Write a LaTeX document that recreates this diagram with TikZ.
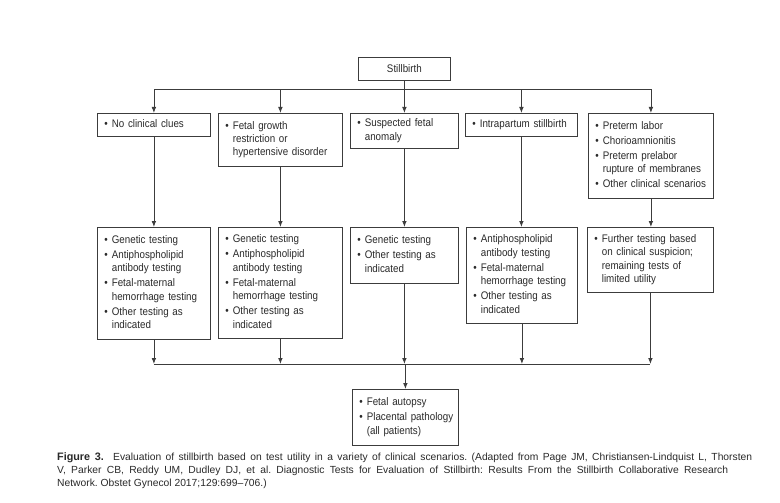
\documentclass[tikz,border=0pt]{standalone}
\usepackage{fontspec}
\setmainfont[FakeStretch=0.89]{Liberation Sans}
\newfontfamily\capfont{Liberation Sans}
\usetikzlibrary{arrows.meta}
\definecolor{linec}{HTML}{3C3C3C}
\definecolor{txtc}{HTML}{2A2A2A}
\frenchspacing
\newcommand\boxfont{\fontsize{11}{13.4}\selectfont\color{txtc}}
\newcommand\capsize{\capfont\fontsize{10.3}{13}\selectfont}
\tikzset{
  box/.style={draw=linec, line width=0.8pt, inner xsep=7pt, inner ysep=0pt,
    anchor=north west, align=left, font=\boxfont},
  ln/.style={draw=linec, line width=0.8pt},
  arr/.style={ln, -{Latex[length=6pt,width=4.6pt]}}
}
\begin{document}
\begin{tikzpicture}[x=1pt,y=-1pt]
\useasboundingbox[fill=white] (0,0) rectangle (780,503);

% top
\node[box, align=center, text width=78pt, minimum height=23pt] (S) at (358,57) {Stillbirth};

% scenario row
\node[box, text width=99pt, minimum height=23pt] (A1) at (97,113)
 {\begin{tabular}{@{}l@{\hspace{4pt}}l@{}}\textbullet & No clinical clues\end{tabular}};
\node[box, text width=110pt, minimum height=53pt] (A2) at (218,113)
 {\begin{tabular}{@{}l@{\hspace{4pt}}l@{}}\textbullet & Fetal growth\\ & restriction or\\ & hypertensive disorder\end{tabular}};
\node[box, text width=94pt, minimum height=35pt] (A3) at (350,113)
 {\begin{tabular}{@{}l@{\hspace{4pt}}l@{}}\textbullet & Suspected fetal\\ & anomaly\end{tabular}};
\node[box, text width=98pt, minimum height=23pt] (A4) at (465,113)
 {\begin{tabular}{@{}l@{\hspace{4pt}}l@{}}\textbullet & Intrapartum stillbirth\end{tabular}};
\node[box, text width=111pt, minimum height=85pt] (A5) at (588,113)
 {\begin{tabular}{@{}l@{\hspace{4pt}}l@{}}\textbullet & Preterm labor\\[1.6pt] \textbullet & Chorioamnionitis\\[1.6pt] \textbullet & Preterm prelabor\\ & rupture of membranes\\[1.6pt] \textbullet & Other clinical scenarios\end{tabular}};

% testing row
\node[box, text width=99pt, minimum height=112pt] (B1) at (97,227)
 {\begin{tabular}{@{}l@{\hspace{4pt}}l@{}}\textbullet & Genetic testing\\[1.6pt] \textbullet & Antiphospholipid\\ & antibody testing\\[1.6pt] \textbullet & Fetal-maternal\\ & hemorrhage testing\\[1.6pt] \textbullet & Other testing as\\ & indicated\end{tabular}};
\node[box, text width=110pt, minimum height=111pt] (B2) at (218,227)
 {\begin{tabular}{@{}l@{\hspace{4pt}}l@{}}\textbullet & Genetic testing\\[1.6pt] \textbullet & Antiphospholipid\\ & antibody testing\\[1.6pt] \textbullet & Fetal-maternal\\ & hemorrhage testing\\[1.6pt] \textbullet & Other testing as\\ & indicated\end{tabular}};
\node[box, text width=94pt, minimum height=56pt] (B3) at (350,227)
 {\begin{tabular}{@{}l@{\hspace{4pt}}l@{}}\textbullet & Genetic testing\\[1.6pt] \textbullet & Other testing as\\ & indicated\end{tabular}};
\node[box, text width=97pt, minimum height=96pt] (B4) at (466,227)
 {\begin{tabular}{@{}l@{\hspace{4pt}}l@{}}\textbullet & Antiphospholipid\\ & antibody testing\\[1.6pt] \textbullet & Fetal-maternal\\ & hemorrhage testing\\[1.6pt] \textbullet & Other testing as\\ & indicated\end{tabular}};
\node[box, text width=112pt, minimum height=65pt] (B5) at (587,227)
 {\begin{tabular}{@{}l@{\hspace{4pt}}l@{}}\textbullet & Further testing based\\ & on clinical suspicion;\\ & remaining tests of\\ & limited utility\end{tabular}};

% final
\node[box, text width=92pt, minimum height=56pt] (C) at (352,389)
 {\begin{tabular}{@{}l@{\hspace{4pt}}l@{}}\textbullet & Fetal autopsy\\[1.6pt] \textbullet & Placental pathology\\ & (all patients)\end{tabular}};

% connectors
\coordinate (bus1) at (0,89);
\coordinate (bus2) at (0,364);
\foreach \n in {A1,A2,A3,A4,A5}
  \draw[arr] (S.south) -- (S.south |- bus1) -| (\n.north);
\draw[arr] (A1.south) -- (A1.south |- B1.north);
\draw[arr] (A2.south) -- (A2.south |- B2.north);
\draw[arr] (A3.south) -- (A3.south |- B3.north);
\draw[arr] (A4.south) -- (A4.south |- B4.north);
\draw[arr] (A5.south) -- (A5.south |- B5.north);
\foreach \n in {B1,B2,B3,B4,B5}
  \draw[arr] (\n.south) -- (\n.south |- bus2);
\draw[ln] (B1.south |- bus2) -- (B5.south |- bus2);
\draw[arr] (C.north |- bus2) -- (C.north);

% caption
\node[anchor=north west, inner sep=0pt, align=left, font=\capsize, text=txtc] (cap) at (57,452.5)
 {\makebox[695pt][s]{{\fontsize{10.8}{13}\selectfont\bfseries Figure 3.}\hspace{5pt} Evaluation of stillbirth based on test utility in a variety of clinical scenarios. (Adapted from Page JM, Christiansen-Lindquist L, Thorsten}\\
  \makebox[671pt][s]{V, Parker CB, Reddy UM, Dudley DJ, et al. Diagnostic Tests for Evaluation of Stillbirth: Results From the Stillbirth Collaborative Research}\\
  Network. Obstet Gynecol 2017;129:699–706.)};
\end{tikzpicture}
\end{document}
